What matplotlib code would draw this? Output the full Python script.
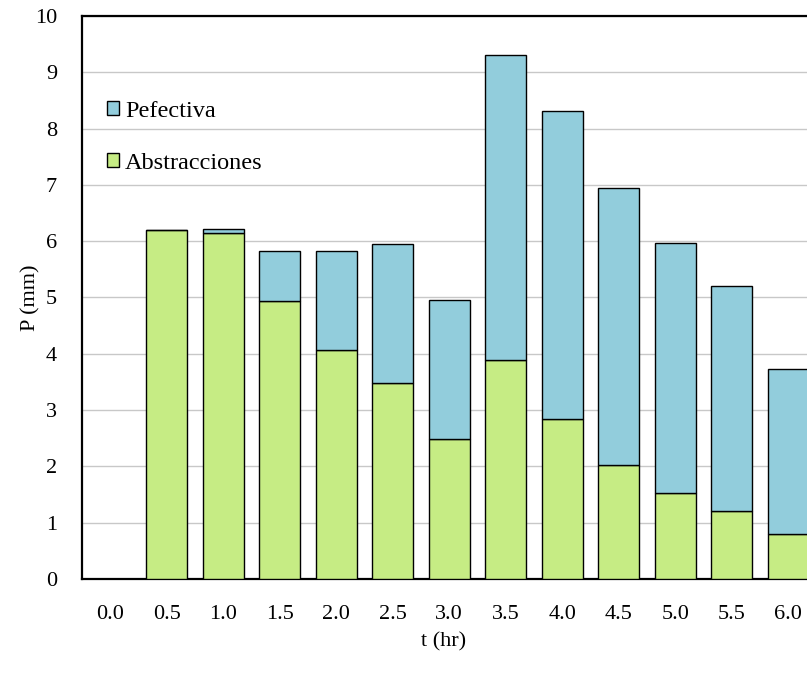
import matplotlib
matplotlib.use("Agg")
import matplotlib.pyplot as plt
import numpy as np
from matplotlib.patches import Patch

plt.rcParams['font.family'] = ['Liberation Serif', 'DejaVu Serif']

# Hyetograph: time steps and rainfall split into losses and effective rain
t_labels = ["0.0", "0.5", "1.0", "1.5", "2.0", "2.5", "3.0",
            "3.5", "4.0", "4.5", "5.0", "5.5", "6.0"]
abstracciones = [0.0, 6.20, 6.14, 4.93, 4.06, 3.48, 2.49,
                 3.89, 2.84, 2.02, 1.52, 1.20, 0.80]
pefectiva = [0.0, 0.00, 0.07, 0.90, 1.77, 2.47, 2.47,
             5.41, 5.47, 4.93, 4.44, 4.01, 2.92]

green = "#C6EC84"
blue = "#92CDDC"

W, H = 807, 673
fig = plt.figure(figsize=(W / 100, H / 100), dpi=100)
left, right, top, bottom = 82, 816.5, 16, 578.8
ax = fig.add_axes([left / W, (H - bottom) / H, (right - left) / W, (bottom - top) / H])

x = np.arange(len(t_labels))
bw = 0.72
ax.bar(x, abstracciones, width=bw, color=green, edgecolor="black", linewidth=1.0, zorder=3)
ax.bar(x, pefectiva, width=bw, bottom=abstracciones, color=blue,
       edgecolor="black", linewidth=1.0, zorder=3)

ax.set_xlim(-0.5, len(t_labels) - 0.5)
ax.set_ylim(0, 10)
ax.set_yticks(np.arange(0, 11, 1))
ax.set_xticks(x)
ax.set_xticklabels(t_labels)
ax.yaxis.grid(True, color="#C8C8C8", linewidth=1.0, zorder=0)
ax.set_axisbelow(True)

ax.tick_params(axis="both", length=0, labelsize=16)
ax.tick_params(axis="x", pad=19)
ax.tick_params(axis="y", pad=18)

for side in ("left", "bottom", "top", "right"):
    ax.spines[side].set_linewidth(1.6)
    ax.spines[side].set_color("black")

ax.set_xlabel("t (hr)", fontsize=16)
ax.set_ylabel("P (mm)", fontsize=16)
ax.xaxis.set_label_coords(0.5 - 6 / (right - left), (bottom - 642) / (bottom - top))
ax.xaxis.label.set_va("center")
ax.yaxis.set_label_coords((31 - left) / (right - left), 0.5)
ax.yaxis.label.set_va("center")

handles = [Patch(facecolor=blue, edgecolor="black", linewidth=1.0, label="Pefectiva"),
           Patch(facecolor=green, edgecolor="black", linewidth=1.0, label="Abstracciones")]
ax.legend(handles=handles, loc="upper left", bbox_to_anchor=(0.0205, 0.867),
          frameon=False, fontsize=17.5, handlelength=0.5, handleheight=0.5,
          handletextpad=0.25, labelspacing=1.29, borderaxespad=0)

fig.savefig("out.png", dpi=100)
